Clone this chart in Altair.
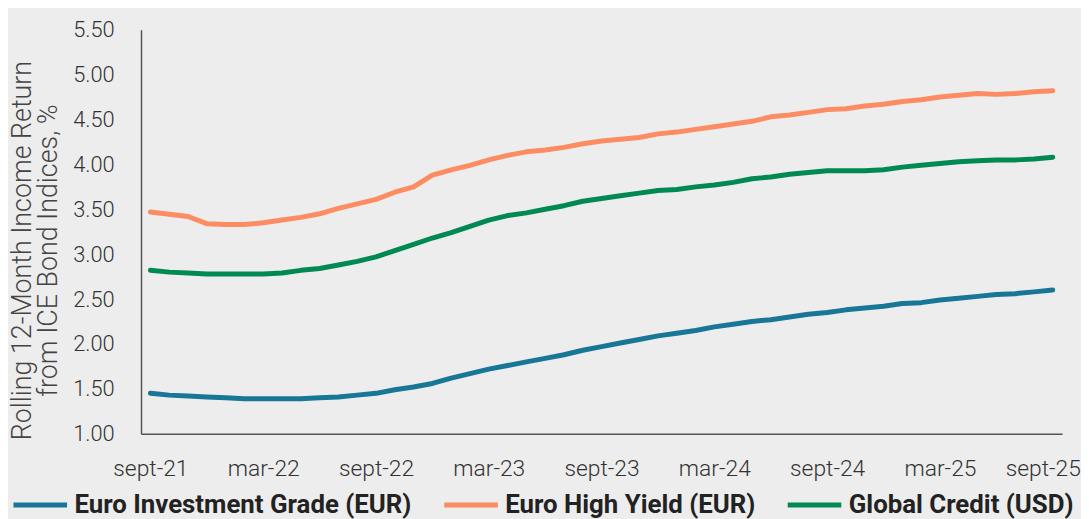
import altair as alt
import pandas as pd

month_names = ["jan", "feb", "mar", "apr", "may", "jun", "jul", "aug", "sept", "oct", "nov", "dec"]
months = [f"{month_names[(8 + i) % 12]}-{21 + (8 + i) // 12}" for i in range(49)]
tick_labels = ["sept-21", "mar-22", "sept-22", "mar-23", "sept-23", "mar-24", "sept-24", "mar-25", "sept-25"]

series_names = ["Euro Investment Grade (EUR)", "Euro High Yield (EUR)", "Global Credit (USD)"]
colors = ["#187696", "#FC8C62", "#008A52"]

euro_ig = [1.45, 1.43, 1.42, 1.41, 1.40, 1.39, 1.39, 1.39, 1.39, 1.40,
           1.41, 1.43, 1.45, 1.49, 1.52, 1.56, 1.62, 1.67, 1.72, 1.76,
           1.80, 1.84, 1.88, 1.93, 1.97, 2.01, 2.05, 2.09, 2.12, 2.15,
           2.19, 2.22, 2.25, 2.27, 2.30, 2.33, 2.35, 2.38, 2.40, 2.42,
           2.45, 2.46, 2.49, 2.51, 2.53, 2.55, 2.56, 2.58, 2.60]
euro_hy = [3.47, 3.445, 3.42, 3.34, 3.33, 3.33, 3.35, 3.38, 3.41, 3.45,
           3.51, 3.56, 3.61, 3.69, 3.75, 3.88, 3.94, 3.99, 4.05, 4.10,
           4.14, 4.16, 4.19, 4.23, 4.26, 4.28, 4.30, 4.34, 4.36, 4.39,
           4.42, 4.45, 4.48, 4.53, 4.55, 4.58, 4.61, 4.62, 4.65, 4.67,
           4.70, 4.72, 4.75, 4.77, 4.79, 4.78, 4.79, 4.81, 4.82]
global_credit = [2.82, 2.80, 2.79, 2.78, 2.78, 2.78, 2.78, 2.79, 2.82, 2.84,
                 2.88, 2.92, 2.97, 3.04, 3.11, 3.18, 3.24, 3.31, 3.38, 3.43,
                 3.46, 3.50, 3.54, 3.59, 3.62, 3.65, 3.68, 3.71, 3.72, 3.75,
                 3.77, 3.80, 3.84, 3.86, 3.89, 3.91, 3.93, 3.93, 3.93, 3.94,
                 3.97, 3.99, 4.01, 4.03, 4.04, 4.05, 4.05, 4.06, 4.08]

rows = []
for name, vals in zip(series_names, [euro_ig, euro_hy, global_credit]):
    for i, (m, v) in enumerate(zip(months, vals)):
        rows.append({"month": m, "order": i, "series": name, "value": v})
df = pd.DataFrame(rows)

last_label = tick_labels[-1]

chart = alt.Chart(df).mark_line(strokeWidth=5, strokeCap="round", strokeJoin="round").encode(
    x=alt.X("month:O", sort=months, title=None,
            scale=alt.Scale(type="point", padding=0.5),
            axis=alt.Axis(values=tick_labels, labelAngle=0, ticks=False, labelPadding=24,
                          labelFont="Roboto", labelFontSize=23, labelFontWeight=300,
                          labelColor="#333333", domainColor="#555555", domainWidth=1.5,
                          labelOffset=alt.condition(f"datum.value == '{last_label}'",
                                                    alt.value(-10), alt.value(0)),
                          grid=False)),
    y=alt.Y("value:Q", scale=alt.Scale(domain=[1, 5.5], nice=False, zero=False),
            title=["Rolling 12-Month Income Return", "from ICE Bond Indices, %"],
            axis=alt.Axis(values=[1, 1.5, 2, 2.5, 3, 3.5, 4, 4.5, 5, 5.5], format=".2f",
                          ticks=False, labelPadding=27, grid=False,
                          labelFont="Roboto", labelFontSize=22, labelFontWeight=300,
                          labelColor="#333333", domainColor="#555555", domainWidth=1.5,
                          titleFont="Roboto", titleFontSize=27, titleFontWeight=300,
                          titleColor="#444444", titleLineHeight=26,
                          titleX=-132, titleY=222, titleBaseline="top", titleAngle=-90,
                          titleAlign="center")),
    color=alt.Color("series:N", sort=series_names,
                    scale=alt.Scale(domain=series_names, range=colors),
                    legend=alt.Legend(title=None, orient="none", direction="horizontal",
                                      legendX=-131, legendY=449, symbolType="stroke",
                                      symbolSize=2916, symbolStrokeWidth=5,
                                      labelFont="Roboto", labelFontSize=26,
                                      labelFontWeight="bold", labelColor="#222222",
                                      columnPadding=22, labelOffset=5, padding=0,
                                      labelLimit=500)),
    order="order:Q",
).properties(
    width=928, height=407,
    background="#EDEDED",
    padding={"left": 134, "top": 20, "right": 19, "bottom": 84},
    autosize=alt.AutoSizeParams(type="none"),
).configure_view(stroke=None)

chart.save("out.html", embed_options={"renderer": "svg", "actions": False})
